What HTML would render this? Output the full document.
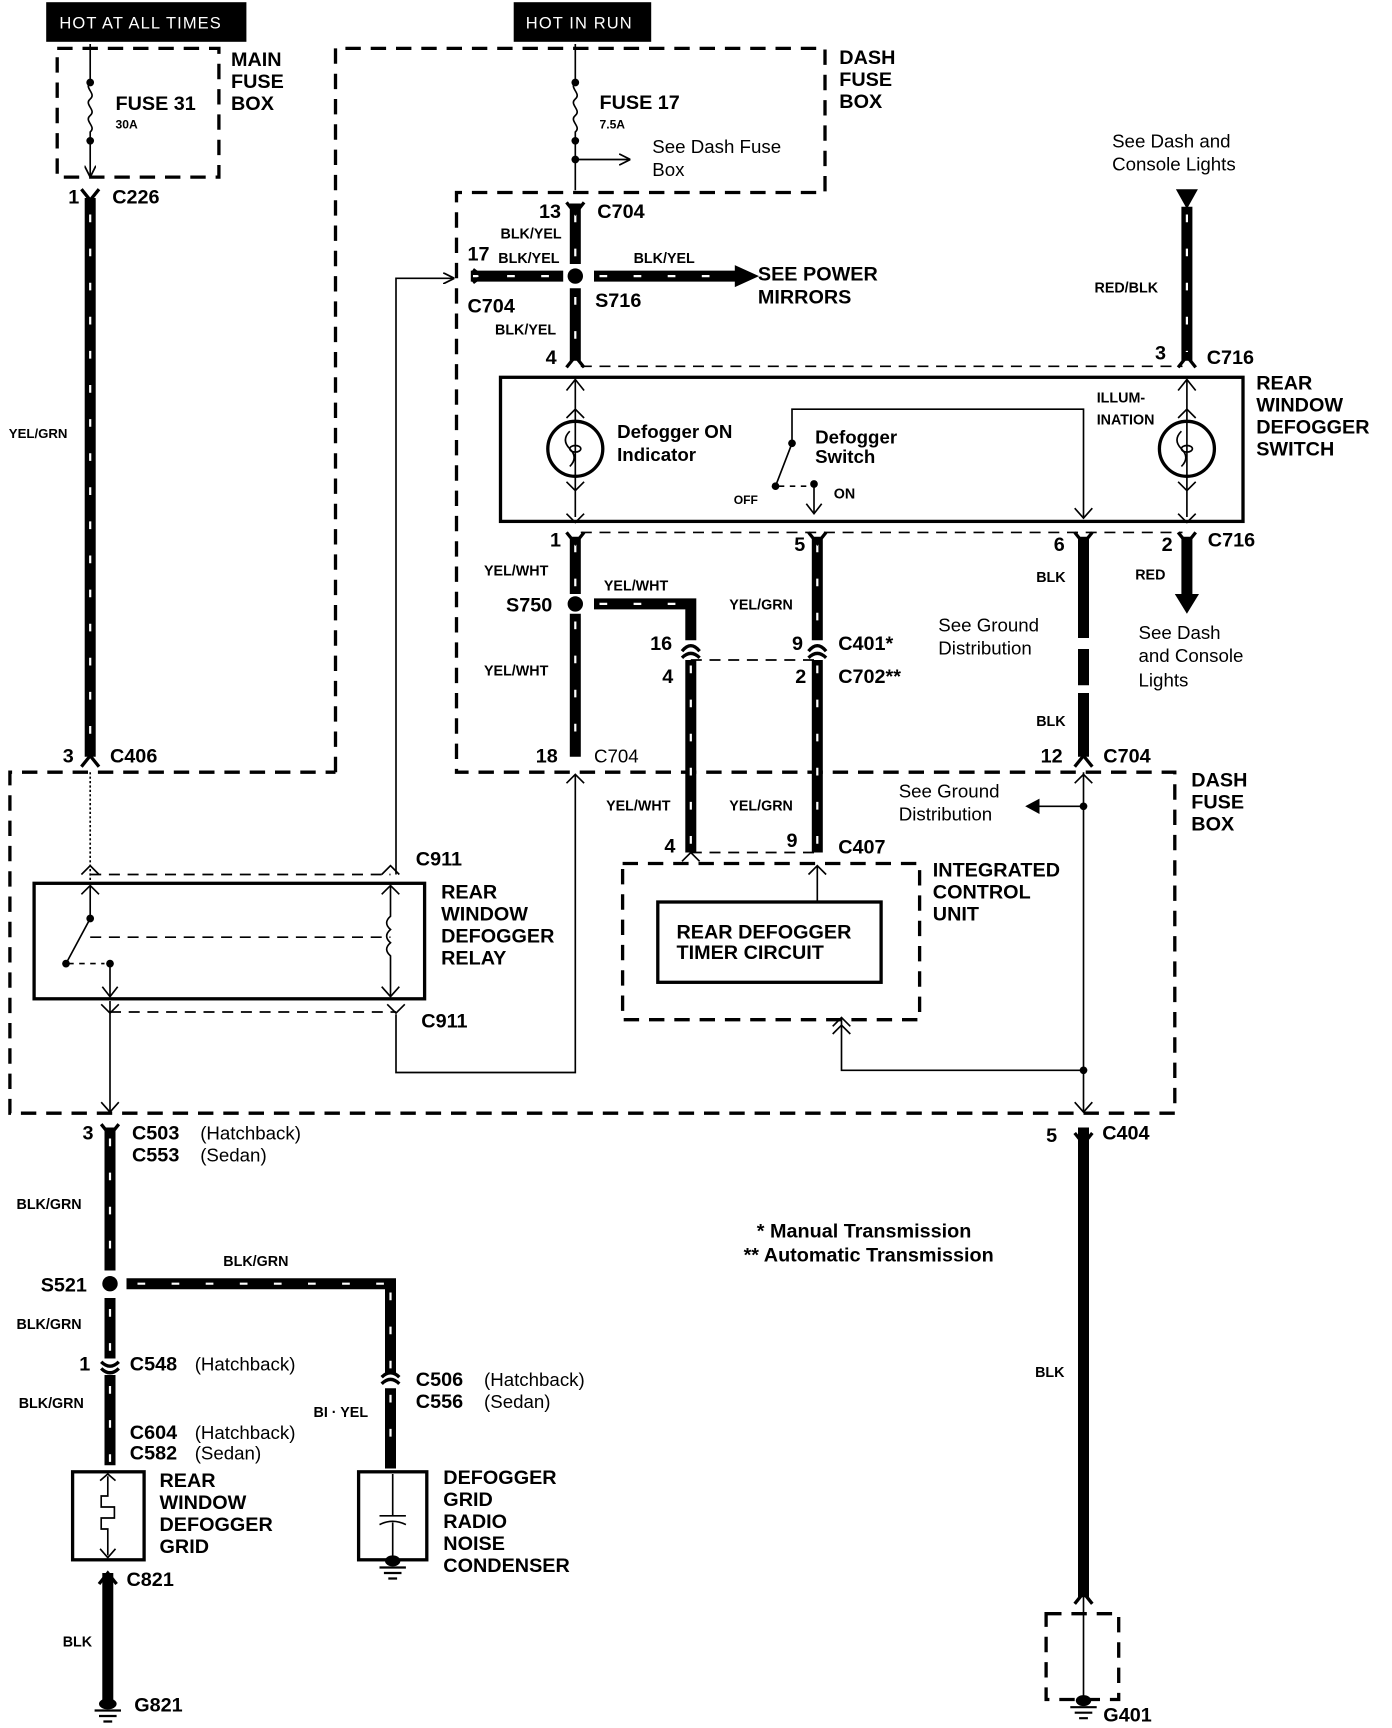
<!DOCTYPE html>
<html><head><meta charset="utf-8"><style>
html,body{margin:0;padding:0;background:#fff;}
svg{display:block}
text{font-family:"Liberation Sans",Arial,sans-serif;fill:#000}
.b{font-weight:bold;font-size:18px}
.s{font-weight:bold;font-size:13px}
.n{font-size:17px}
.w{fill:#fff;font-size:15px;letter-spacing:1px}
</style></head><body>
<svg width="1392" height="1728" viewBox="0 0 1265.45 1570.9" xmlns="http://www.w3.org/2000/svg">
<defs>
<marker id="ar" viewBox="0 0 10 10" refX="9" refY="5" markerWidth="7" markerHeight="7" orient="auto"><path d="M0,0 L10,5 L0,10" fill="none" stroke="#000" stroke-width="1.5"/></marker>
</defs>
<rect x="0" y="0" width="1265.45" height="1570.9" fill="#fff"/>
<!-- header boxes -->
<rect x="42" y="2" width="182" height="36" fill="#000"/>
<text x="54" y="26" class="w">HOT AT ALL TIMES</text>
<rect x="467" y="2" width="125" height="36" fill="#000"/>
<text x="478" y="26" class="w">HOT IN RUN</text>

<g fill="none" stroke="#000" stroke-width="3" stroke-dasharray="14 9">
<rect x="52" y="44" width="147" height="117"/>
<path d="M305,702 V44 H750 V175 H415 V702 H1068 V1012 H9 V702 H305"/>
<rect x="566" y="785" width="270" height="142"/>
<rect x="951" y="1467" width="66" height="78"/>
</g>
<g fill="none" stroke="#000" stroke-width="1.5" stroke-dasharray="10 7">
<path d="M528,333 H1075"/><path d="M528,484 H1075"/>
<path d="M82,795 H355"/><path d="M100,920 H360"/>
<path d="M628,600 H743"/><path d="M628,775 H743"/>
<path d="M82,852 H355"/>
</g>

<!-- labels fuse boxes -->
<text x="210" y="60" class="b">MAIN</text><text x="210" y="80" class="b">FUSE</text><text x="210" y="100" class="b">BOX</text>
<text x="763" y="58" class="b">DASH</text><text x="763" y="78" class="b">FUSE</text><text x="763" y="98" class="b">BOX</text>
<text x="1083" y="715" class="b">DASH</text><text x="1083" y="735" class="b">FUSE</text><text x="1083" y="755" class="b">BOX</text>

<!-- fuse 31 -->
<g fill="none" stroke="#000" stroke-width="1.5">
<path d="M82,40 V75"/><path d="M82,75 c-6,5 6,10 0,15 c-6,5 6,10 0,15 c-6,5 6,10 0,15 V160" marker-end="url(#ar)"/>
<path d="M523,40 V75"/><path d="M523,75 c-6,5 6,10 0,15 c-6,5 6,10 0,15 c-6,5 6,10 0,15 V173"/>
<path d="M523,145 H572" marker-end="url(#ar)"/>
</g>
<circle cx="82" cy="75" r="3.5"/><circle cx="82" cy="128" r="3.5"/>
<circle cx="523" cy="75" r="3.5"/><circle cx="523" cy="128" r="3.5"/><circle cx="523" cy="145" r="3.5"/>
<text x="105" y="100" class="b">FUSE 31</text><text x="105" y="117" class="s" style="font-size:11px">30A</text>
<text x="545" y="99" class="b">FUSE 17</text><text x="545" y="117" class="s" style="font-size:11px">7.5A</text>
<text x="593" y="139" class="n">See Dash Fuse</text><text x="593" y="160" class="n">Box</text>

<!-- thick wires -->
<g stroke="#000" stroke-width="10" fill="none">
<path d="M82,180 V688"/>
<path d="M523,185 V240"/><path d="M523,262 V328"/>
<path d="M428,251 H512"/><path d="M540,251 H670"/>
<path d="M1079,188 V328"/>
<path d="M523,488 V540"/><path d="M523,558 V688"/>
<path d="M540,549 H628 V582"/><path d="M628,600 V775"/>
<path d="M743,488 V582"/><path d="M743,600 V775"/>
<path d="M985,488 V580"/><path d="M985,590 V623"/><path d="M985,630 V688"/>
<path d="M1079,488 V540"/>
<path d="M100,1025 V1155"/><path d="M100,1180 V1235"/><path d="M100,1250 V1332"/>
<path d="M115,1167 H355 V1248"/><path d="M355,1262 V1335"/>
<path d="M98,1430 V1545"/>
<path d="M985,1025 V1452"/>
</g>
<g stroke="#fff" stroke-width="2" fill="none" stroke-dasharray="7 24">
<path d="M82,195 V680"/><path d="M523,195 V240"/><path d="M523,270 V328"/>
<path d="M430,251 H512"/><path d="M545,251 H665"/><path d="M1079,195 V320"/>
<path d="M523,495 V540"/><path d="M523,565 V685"/><path d="M545,549 H625"/>
<path d="M628,605 V770"/><path d="M743,495 V580"/><path d="M743,605 V770"/>
<path d="M100,1035 V1150"/><path d="M100,1190 V1230"/><path d="M100,1260 V1330"/>
<path d="M125,1167 H350"/><path d="M355,1175 V1245"/><path d="M355,1268 V1330"/>
</g>
<path d="M668,241 L690,251 L668,261Z"/>
<path d="M1069,172 H1089 L1079,190Z"/>
<path d="M1068,540 H1090 L1079,558Z"/>
<circle cx="523" cy="251" r="7"/><circle cx="523" cy="549" r="7"/><circle cx="100" cy="1167" r="7"/>

<!-- connector ticks -->
<g fill="none" stroke="#000" stroke-width="3">
<path d="M74,172 L82,182 L90,172"/><path d="M74,697 L82,687 L90,697"/>
<path d="M515,184 L523,194 L531,184"/><path d="M515,334 L523,324 L531,334"/>
<path d="M1071,334 L1079,324 L1087,334"/>
<path d="M515,484 L523,494 L531,484"/><path d="M735,484 L743,494 L751,484"/>
<path d="M977,484 L985,494 L993,484"/><path d="M1071,484 L1079,494 L1087,484"/>
<path d="M977,697 L985,687 L993,697"/>
<path d="M620,592 Q628,582 636,592"/><path d="M620,598 Q628,590 636,598"/>
<path d="M735,592 Q743,582 751,592"/><path d="M735,598 Q743,590 751,598"/>
<path d="M92,1022 L100,1032 L108,1022"/>
<path d="M92,1238 Q100,1246 108,1238"/><path d="M92,1244 Q100,1252 108,1244"/>
<path d="M347,1252 Q355,1244 363,1252"/><path d="M347,1258 Q355,1250 363,1258"/>
<path d="M90,1440 L98,1430 L106,1440"/><path d="M977,1030 L985,1040 L993,1030"/>
<path d="M977,1458 L985,1448 L993,1458"/>
<path d="M430,245 L438,251 L430,257"/>
</g>

<!-- connector texts -->
<text x="62" y="185" class="b">1</text><text x="102" y="185" class="b">C226</text>
<text x="8" y="398" class="s" style="font-size:12px">YEL/GRN</text>
<text x="57" y="693" class="b">3</text><text x="100" y="693" class="b">C406</text>
<text x="490" y="198" class="b">13</text><text x="543" y="198" class="b">C704</text>
<text x="455" y="217" class="s">BLK/YEL</text>
<text x="425" y="237" class="b">17</text><text x="453" y="239" class="s">BLK/YEL</text>
<text x="576" y="239" class="s">BLK/YEL</text>
<text x="689" y="255" class="b">SEE POWER</text><text x="689" y="276" class="b">MIRRORS</text>
<text x="425" y="284" class="b">C704</text><text x="541" y="279" class="b">S716</text>
<text x="450" y="304" class="s">BLK/YEL</text><text x="496" y="331" class="b">4</text>
<text x="1011" y="134" class="n">See Dash and</text><text x="1011" y="155" class="n">Console Lights</text>
<text x="995" y="266" class="s">RED/BLK</text>
<text x="1050" y="327" class="b">3</text><text x="1097" y="331" class="b">C716</text>
<text x="1142" y="354" class="b">REAR</text><text x="1142" y="374" class="b">WINDOW</text><text x="1142" y="394" class="b">DEFOGGER</text><text x="1142" y="414" class="b">SWITCH</text>

<!-- switch box -->
<rect x="455" y="343" width="675" height="131" fill="none" stroke="#000" stroke-width="3"/>
<g fill="none" stroke="#000" stroke-width="1.5">
<path d="M523,470 V345"/><path d="M515,355 L523,345 L531,355"/><path d="M515,467 L523,475 L531,467"/>
<path d="M515,380 L523,372 L531,380"/><path d="M515,438 L523,446 L531,438"/>
<path d="M1079,470 V345"/><path d="M1071,355 L1079,345 L1087,355"/><path d="M1071,467 L1079,475 L1087,467"/>
<path d="M1071,380 L1079,372 L1087,380"/><path d="M1071,438 L1079,446 L1087,438"/>
<path d="M720,403 V372 H985 V470"/><path d="M977,462 L985,471 L993,462"/>
<path d="M720,403 L705,442"/><path d="M708,442 H738" stroke-dasharray="5 5"/>
<path d="M740,442 V466"/><path d="M733,458 L740,467 L747,458"/>
<path d="M518,392 q-8,8 0,16 q8,8 0,16"/><path d="M1074,392 q-8,8 0,16 q8,8 0,16"/>
</g>
<circle cx="523" cy="408" r="25" fill="none" stroke="#000" stroke-width="3"/>
<circle cx="1079" cy="408" r="25" fill="none" stroke="#000" stroke-width="3"/>
<ellipse cx="523" cy="408" rx="5" ry="3" fill="none" stroke="#000" stroke-width="1.5"/>
<ellipse cx="1079" cy="408" rx="5" ry="3" fill="none" stroke="#000" stroke-width="1.5"/>
<circle cx="720" cy="403" r="3.5"/><circle cx="705" cy="442" r="3.5"/><circle cx="740" cy="440" r="3.5"/>
<text x="561" y="398" class="b" style="font-size:17px">Defogger ON</text><text x="561" y="419" class="b" style="font-size:17px">Indicator</text>
<text x="741" y="403" class="b" style="font-size:17px">Defogger</text><text x="741" y="421" class="b" style="font-size:17px">Switch</text>
<text x="667" y="458" class="s" style="font-size:11px">OFF</text><text x="758" y="453" class="s">ON</text>
<text x="997" y="366" class="s">ILLUM-</text><text x="997" y="386" class="s">INATION</text>

<!-- below switch -->
<text x="500" y="497" class="b">1</text><text x="722" y="501" class="b">5</text>
<text x="958" y="501" class="b">6</text><text x="1056" y="501" class="b">2</text><text x="1098" y="497" class="b">C716</text>
<text x="440" y="523" class="s">YEL/WHT</text><text x="460" y="556" class="b">S750</text>
<text x="549" y="537" class="s">YEL/WHT</text><text x="663" y="554" class="s">YEL/GRN</text>
<text x="440" y="614" class="s">YEL/WHT</text>
<text x="591" y="591" class="b">16</text><text x="602" y="621" class="b">4</text>
<text x="720" y="591" class="b">9</text><text x="762" y="591" class="b">C401*</text>
<text x="723" y="621" class="b">2</text><text x="762" y="621" class="b">C702**</text>
<text x="942" y="529" class="s">BLK</text><text x="1032" y="527" class="s">RED</text>
<text x="853" y="574" class="n">See Ground</text><text x="853" y="595" class="n">Distribution</text>
<text x="1035" y="581" class="n">See Dash</text><text x="1035" y="602" class="n">and Console</text><text x="1035" y="624" class="n">Lights</text>
<text x="942" y="660" class="s">BLK</text>
<text x="487" y="693" class="b">18</text><text x="540" y="693" class="n">C704</text>
<text x="946" y="693" class="b">12</text><text x="1003" y="693" class="b">C704</text>

<!-- thin lines lower area -->
<g fill="none" stroke="#000" stroke-width="1.5">
<path d="M360,795 V253 H412" marker-end="url(#ar)"/>
<path d="M523,704 V975 H360 V922"/><path d="M515,712 L523,704 L531,712"/>
<path d="M82,702 V803" stroke-dasharray="2 2"/>
<path d="M74,795 L82,787 L90,795"/><path d="M347,795 L355,787 L363,795"/>
<path d="M82,805 V835 L60,876"/><path d="M62,876 H95" stroke-dasharray="5 5"/><path d="M100,876 V905"/><path d="M93,897 L100,906 L107,897"/>
<path d="M74,813 L82,805 L90,813"/>
<path d="M355,805 V833 q-7,6 0,12 q-7,6 0,12 q-7,6 0,12 V905"/><path d="M347,813 L355,805 L363,813"/><path d="M347,897 L355,906 L363,897"/>
<path d="M100,910 V1010"/><path d="M92,1002 L100,1011 L108,1002"/><path d="M92,913 L100,921 L108,913"/><path d="M352,913 L360,921 L368,913"/>
<path d="M985,702 V1010"/><path d="M977,1002 L985,1011 L993,1002"/><path d="M977,712 L985,704 L993,712"/>
<path d="M985,733 H945"/>
<path d="M985,973 H765 V925"/><path d="M757,933 L765,925 L773,933"/><path d="M757,940 L765,932 L773,940"/>
<path d="M743,820 V787"/><path d="M735,795 L743,787 L751,795"/>
<path d="M620,783 L628,775 L636,783"/>
<path d="M98,1342 V1360 H92 v10 h12 v10 h-12 v10 h6 V1414"/><path d="M91,1346 L98,1340 L105,1346"/><path d="M91,1408 L98,1416 L105,1408"/>
<path d="M357,1340 V1378"/><path d="M345,1378 H369"/><path d="M345,1386 Q357,1380 369,1386"/><path d="M357,1384 V1418"/>
<path d="M985,1450 V1548"/>
</g>
<path d="M945,726 L932,733 L945,740Z"/>
<circle cx="985" cy="733" r="3.5"/><circle cx="985" cy="973" r="3.5"/>
<circle cx="82" cy="835" r="3.5"/><circle cx="60" cy="876" r="3.5"/><circle cx="100" cy="876" r="3.5"/>

<rect x="31" y="803" width="355" height="105" fill="none" stroke="#000" stroke-width="3"/>
<text x="378" y="787" class="b">C911</text>
<text x="401" y="817" class="b">REAR</text><text x="401" y="837" class="b">WINDOW</text><text x="401" y="857" class="b">DEFOGGER</text><text x="401" y="877" class="b">RELAY</text>
<text x="383" y="934" class="b">C911</text>
<text x="817" y="725" class="n">See Ground</text><text x="817" y="746" class="n">Distribution</text>
<text x="551" y="737" class="s">YEL/WHT</text><text x="663" y="737" class="s">YEL/GRN</text>
<text x="604" y="775" class="b">4</text><text x="715" y="770" class="b">9</text><text x="762" y="776" class="b">C407</text>
<rect x="598" y="820" width="203" height="73" fill="none" stroke="#000" stroke-width="3"/>
<text x="615" y="853" class="b">REAR DEFOGGER</text><text x="615" y="872" class="b">TIMER CIRCUIT</text>
<text x="848" y="797" class="b">INTEGRATED</text><text x="848" y="817" class="b">CONTROL</text><text x="848" y="837" class="b">UNIT</text>

<!-- bottom -->
<text x="75" y="1036" class="b">3</text><text x="120" y="1036" class="b">C503</text><text x="182" y="1036" class="n">(Hatchback)</text>
<text x="120" y="1056" class="b">C553</text><text x="182" y="1056" class="n">(Sedan)</text>
<text x="15" y="1099" class="s">BLK/GRN</text>
<text x="37" y="1174" class="b">S521</text><text x="203" y="1151" class="s">BLK/GRN</text>
<text x="15" y="1208" class="s">BLK/GRN</text>
<text x="72" y="1246" class="b">1</text><text x="118" y="1246" class="b">C548</text><text x="177" y="1246" class="n">(Hatchback)</text>
<text x="17" y="1280" class="s">BLK/GRN</text>
<text x="118" y="1308" class="b">C604</text><text x="177" y="1308" class="n">(Hatchback)</text>
<text x="118" y="1327" class="b">C582</text><text x="177" y="1327" class="n">(Sedan)</text>
<rect x="66" y="1338" width="65" height="80" fill="none" stroke="#000" stroke-width="3"/>
<text x="145" y="1352" class="b">REAR</text><text x="145" y="1372" class="b">WINDOW</text><text x="145" y="1392" class="b">DEFOGGER</text><text x="145" y="1412" class="b">GRID</text>
<text x="115" y="1442" class="b">C821</text><text x="57" y="1497" class="s">BLK</text>
<text x="378" y="1260" class="b">C506</text><text x="440" y="1260" class="n">(Hatchback)</text>
<text x="378" y="1280" class="b">C556</text><text x="440" y="1280" class="n">(Sedan)</text>
<text x="285" y="1288" class="s">BI · YEL</text>
<rect x="326" y="1338" width="62" height="80" fill="none" stroke="#000" stroke-width="3"/>
<text x="403" y="1349" class="b">DEFOGGER</text><text x="403" y="1369" class="b">GRID</text><text x="403" y="1389" class="b">RADIO</text><text x="403" y="1409" class="b">NOISE</text><text x="403" y="1429" class="b">CONDENSER</text>
<text x="951" y="1038" class="b">5</text><text x="1002" y="1036" class="b">C404</text>
<text x="941" y="1252" class="s">BLK</text>
<text x="688" y="1125" class="b">* Manual Transmission</text>
<text x="676" y="1147" class="b">** Automatic Transmission</text>
<text x="122" y="1556" class="b">G821</text><text x="1003" y="1565" class="b">G401</text>
<!-- grounds -->
<g stroke="#000" stroke-width="2">
<path d="M86,1555 H110 M90,1560 H106 M94,1565 H102"/>
<path d="M345,1425 H369 M349,1430 H365 M353,1435 H361"/>
<path d="M973,1552 H997 M977,1557 H993 M981,1562 H989"/>
</g>
<ellipse cx="98" cy="1549" rx="8" ry="5"/><ellipse cx="357" cy="1419" rx="7" ry="5"/><ellipse cx="985" cy="1546" rx="7" ry="5"/>
</svg>
</body></html>
